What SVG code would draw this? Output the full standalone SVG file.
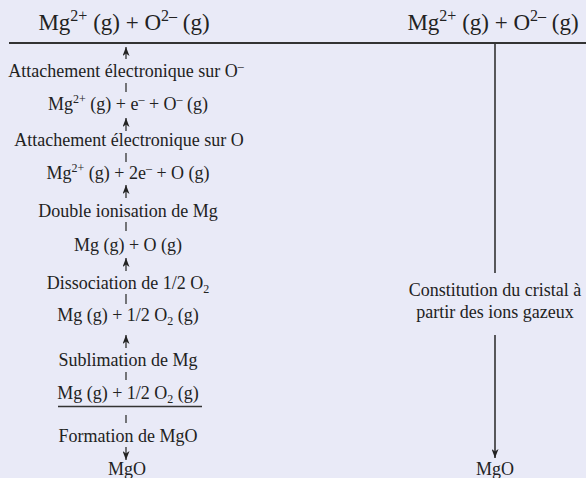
<svg xmlns="http://www.w3.org/2000/svg" width="586" height="478" viewBox="0 0 586 478">
<defs>
<style>
.t{font-family:"Liberation Serif","Times New Roman",serif;font-size:18px;fill:#222;text-anchor:middle}
.h{font-size:23px}
.s{font-size:12px}
.hs{font-size:16px}
.ln{stroke:#333;fill:none}
</style>
<marker id="ah" viewBox="0 0 9 7" markerWidth="9" markerHeight="7" refX="9" refY="3.5" orient="auto" markerUnits="userSpaceOnUse">
<path d="M0,0 L9,3.5 L0,7 L2.5,3.5 z" fill="#222"/>
</marker>
</defs>
<rect width="586" height="478" fill="#e9eaf7"/>
<g id="connectors">
<line class="ln" x1="9" y1="43" x2="586" y2="43" stroke-width="2"/>
<line class="ln" x1="126" y1="59" x2="126" y2="47" stroke-width="1.3" marker-end="url(#ah)"/>
<line class="ln" x1="126" y1="83" x2="126" y2="92" stroke-width="1.3"/>
<line class="ln" x1="126" y1="131" x2="126" y2="118" stroke-width="1.3" marker-end="url(#ah)"/>
<line class="ln" x1="126" y1="153" x2="126" y2="162" stroke-width="1.3"/>
<line class="ln" x1="126" y1="198" x2="126" y2="185" stroke-width="1.3" marker-end="url(#ah)"/>
<line class="ln" x1="126" y1="222" x2="126" y2="231" stroke-width="1.3"/>
<line class="ln" x1="126" y1="271" x2="126" y2="258" stroke-width="1.3" marker-end="url(#ah)"/>
<line class="ln" x1="126" y1="294" x2="126" y2="304" stroke-width="1.3"/>
<line class="ln" x1="126" y1="348" x2="126" y2="335" stroke-width="1.3" marker-end="url(#ah)"/>
<line class="ln" x1="126" y1="372" x2="126" y2="380" stroke-width="1.3"/>
<line class="ln" x1="58" y1="406.5" x2="202" y2="406.5" stroke-width="1.5"/>
<line class="ln" x1="126" y1="415" x2="126" y2="423" stroke-width="1.3"/>
<line class="ln" x1="126" y1="447" x2="126" y2="460" stroke-width="1.3" marker-end="url(#ah)"/>
<line class="ln" x1="495" y1="43" x2="495" y2="273" stroke-width="1.6"/>
<line class="ln" x1="495" y1="335" x2="495" y2="458" stroke-width="1.6" marker-end="url(#ah)"/>
</g>
<g id="top-left"><text class="t h" x="124" y="30">Mg<tspan class="hs" dy="-9">2+</tspan><tspan dy="9"> (g) + O</tspan><tspan class="hs" dy="-9">2–</tspan><tspan dy="9"> (g)</tspan></text></g>
<g id="top-right"><text class="t h" x="493" y="30">Mg<tspan class="hs" dy="-9">2+</tspan><tspan dy="9"> (g) + O</tspan><tspan class="hs" dy="-9">2–</tspan><tspan dy="9"> (g)</tspan></text></g>
<g id="step-att-ominus"><text class="t" x="126" y="77">Attachement électronique sur O<tspan class="s" dy="-7">–</tspan></text></g>
<g id="state-mg2-e-ominus"><text class="t" x="128" y="110">Mg<tspan class="s" dy="-7">2+</tspan><tspan dy="7"> (g) + e</tspan><tspan class="s" dy="-7">–</tspan><tspan dy="7"> + O</tspan><tspan class="s" dy="-7">–</tspan><tspan dy="7"> (g)</tspan></text></g>
<g id="step-att-o"><text class="t" x="129" y="146">Attachement électronique sur O</text></g>
<g id="state-mg2-2e-o"><text class="t" x="128" y="179">Mg<tspan class="s" dy="-7">2+</tspan><tspan dy="7"> (g) + 2e</tspan><tspan class="s" dy="-7">–</tspan><tspan dy="7"> + O (g)</tspan></text></g>
<g id="step-ionisation"><text class="t" x="128" y="217">Double ionisation de Mg</text></g>
<g id="state-mg-o"><text class="t" x="128" y="251">Mg (g) + O (g)</text></g>
<g id="step-dissociation"><text class="t" x="128" y="289">Dissociation de 1/2 O<tspan class="s" dy="4">2</tspan></text></g>
<g id="state-mg-o2"><text class="t" x="128" y="321">Mg (g) + 1/2 O<tspan class="s" dy="4">2</tspan><tspan dy="-4"> (g)</tspan></text></g>
<g id="step-sublimation"><text class="t" x="128" y="366">Sublimation de Mg</text></g>
<g id="state-mg-o2-ref"><text class="t" x="128" y="399">Mg (g) + 1/2 O<tspan class="s" dy="4">2</tspan><tspan dy="-4"> (g)</tspan></text></g>
<g id="step-formation"><text class="t" x="128" y="442">Formation de MgO</text></g>
<g id="mgo-left"><text class="t" x="127" y="475">MgO</text></g>
<g id="step-cristal"><text class="t" x="495" y="296">Constitution du cristal à</text><text class="t" x="495" y="318">partir des ions gazeux</text></g>
<g id="mgo-right"><text class="t" x="495" y="475">MgO</text></g>
</svg>
